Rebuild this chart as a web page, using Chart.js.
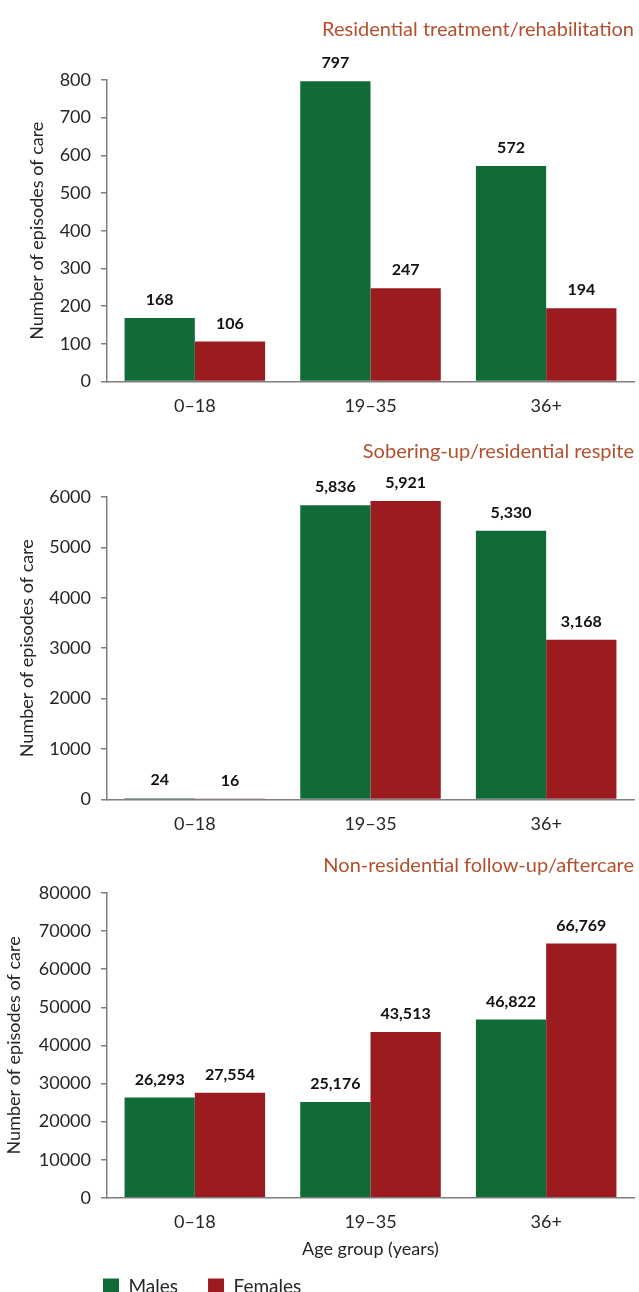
<!DOCTYPE html>
<html>
<head>
<meta charset="utf-8">
<script src="https://cdn.jsdelivr.net/npm/chart.js@4.4.1/dist/chart.umd.min.js"></script>
<style>
html,body{margin:0;padding:0;background:#fff;}
body{width:639px;height:1292px;position:relative;overflow:hidden;}
.box{position:absolute;left:0;width:639px;}
</style>
</head>
<body>
<div class="box" style="top:0;height:431px"><canvas id="c1"></canvas></div>
<div class="box" style="top:440px;height:409px"><canvas id="c2"></canvas></div>
<div class="box" style="top:820px;height:499px"><canvas id="c3"></canvas></div>
<script>
const categories = ['0–18', '19–35', '36+'];
const seriesNames = ['Males', 'Females'];

const titles = ['Residential treatment/rehabilitation', 'Sobering-up/residential respite', 'Non-residential follow-up/aftercare'];

const rehabMales = [168, 797, 572];
const rehabFemales = [106, 247, 194];
const soberMales = [24, 5836, 5330];
const soberFemales = [16, 5921, 3168];
const aftercareMales = [26293, 25176, 46822];
const aftercareFemales = [27554, 43513, 66769];

const yMax = [800, 6000, 80000];
const yStep = [100, 1000, 10000];

const yAxisTitle = 'Number of episodes of care';
const xAxisTitle = 'Age group (years)';

const GREEN = '#116b37';
const RED = '#9b1b1f';
const TITLE_COLOR = '#b3502f';
const TEXT = '#262626';
const AXIS = '#7f7f7f';
const FONT = 'Lato, "Open Sans", sans-serif';

const valueLabels = {
  id: 'valueLabels',
  afterDatasetsDraw(chart) {
    const ctx = chart.ctx;
    ctx.save();
    ctx.font = 'bold 16px ' + FONT;
    ctx.fillStyle = '#111';
    ctx.textAlign = 'center';
    ctx.textBaseline = 'middle';
    chart.data.datasets.forEach((ds, i) => {
      const meta = chart.getDatasetMeta(i);
      meta.data.forEach((bar, j) => {
        const v = ds.data[j];
        ctx.fillText(v.toLocaleString('en-US'), bar.x, bar.y - 18);
      });
    });
    ctx.restore();
  }
};

const legendShift = {
  id: 'legendShift',
  afterLayout(chart) {
    if (chart.legend && chart.options.plugins.legend.display) {
      chart.legend.left += 73;
      chart.legend.right += 73;
      chart.legend.top -= 13;
      chart.legend.bottom -= 13;
    }
  }
};

function makeChart(id, idx, males, females, opts) {
  return new Chart(document.getElementById(id), {
    type: 'bar',
    data: {
      labels: categories,
      datasets: [
        { label: seriesNames[0], data: males, backgroundColor: GREEN, borderWidth: 0 },
        { label: seriesNames[1], data: females, backgroundColor: RED, borderWidth: 0 }
      ]
    },
    options: {
      responsive: true,
      maintainAspectRatio: false,
      animation: false,
      categoryPercentage: 0.8,
      barPercentage: 1.0,
      layout: { padding: { left: 0, right: 5, top: 0, bottom: 0 } },
      plugins: {
        title: {
          display: true,
          text: titles[idx],
          align: 'end',
          color: TITLE_COLOR,
          font: { family: FONT, size: 20, weight: 'normal' },
          padding: { top: opts.titleTop, bottom: opts.titleBottom }
        },
        legend: {
          display: !!opts.legend,
          position: 'bottom',
          align: 'start',
          labels: {
            boxWidth: 16, boxHeight: 16, padding: 30,
            color: TEXT,
            font: { family: FONT, size: 19 }
          }
        },
        tooltip: { enabled: false }
      },
      scales: {
        x: {
          grid: { display: false, drawTicks: false },
          border: { display: true, color: AXIS, width: 1.5 },
          ticks: { color: TEXT, font: { family: FONT, size: 18 }, padding: 14 },
          title: {
            display: !!opts.xTitle,
            text: xAxisTitle,
            color: TEXT,
            font: { family: FONT, size: 18 },
            padding: { top: -9, bottom: 0 }
          }
        },
        y: {
          min: 0, max: yMax[idx],
          ticks: {
            stepSize: yStep[idx], color: TEXT, font: { family: FONT, size: 18 }, padding: 10,
            callback: (v) => String(v)
          },
          grid: { display: true, drawOnChartArea: false, tickLength: 6, color: AXIS, lineWidth: 1.5 },
          border: { display: true, color: AXIS, width: 1.5 },
          title: {
            display: true,
            text: yAxisTitle,
            color: TEXT,
            font: { family: FONT, size: 18 },
            padding: { top: opts.yTitlePad, bottom: 0 }
          },
          afterFit(scale) { scale.width = 107; }
        }
      }
    },
    plugins: [valueLabels, legendShift]
  });
}

makeChart('c1', 0, rehabMales, rehabFemales, { titleTop: 18, titleBottom: 38, yTitlePad: 26 });
makeChart('c2', 1, soberMales, soberFemales, { titleTop: 0, titleBottom: 33, yTitlePad: 16 });
makeChart('c3', 2, aftercareMales, aftercareFemales, { titleTop: 34, titleBottom: 15, yTitlePad: 3, xTitle: true, legend: true });
</script>
</body>
</html>
